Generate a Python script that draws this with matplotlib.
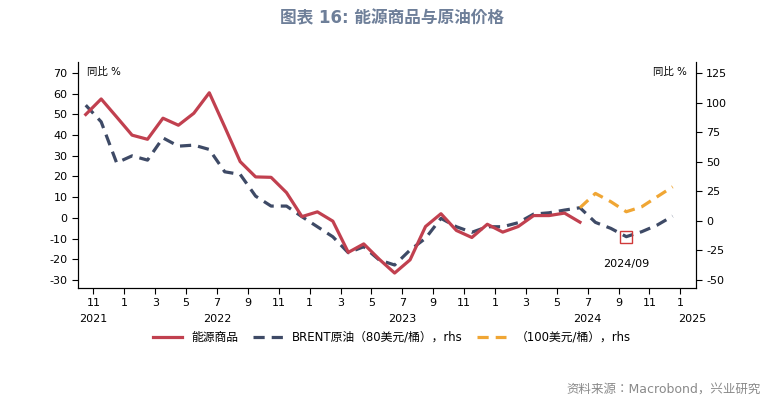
import matplotlib
matplotlib.use("Agg")
import matplotlib.pyplot as plt
from matplotlib import font_manager
import numpy as np

cjk = [f.name for f in font_manager.fontManager.ttflist if "CJK" in f.name]
plt.rcParams["font.family"] = ["DejaVu Sans"] + sorted(set(cjk))[:2] + ["Noto Sans CJK SC", "Noto Sans CJK JP"]
plt.rcParams["axes.unicode_minus"] = False

# --- Data (month index: Nov 2021 tick = 0, points sit half a month left of ticks) ---
energy = [50, 57.5, 48.8, 40, 38, 48.2, 44.8, 50.6, 60.5, 44, 27.2, 19.8, 19.6, 12.2,
          0.6, 2.9, -1.6, -16.7, -12.6, -20, -26.7, -20.3, -4.2, 2,
          -6.1, -9.5, -3.1, -6.9, -4.2, 1.1, 1.1, 2.3, -2.1]
brent80 = [98, 83.9, 49.2, 55.1, 51.5, 70.3, 63.3, 64.2, 60.5, 41.6, 39.4, 21, 12.6, 12.6,
           3.6, -4.9, -13.4, -26.9, -21.8, -33, -37.3, -24.6, -14.7, 2.2,
           -4.9, -9.6, -4.9, -4.9, -1.5, 5.8, 6.9, 9.2, 11.2,
           -1.2, -6.3, -13.3, -9.1, -3.5, 4.1]
brent100 = [11.2, 23.3, 16.3, 7.8, 12, 20.5, 28.9]  # from Jun 2024
month_ticks = ["11", "1", "3", "5", "7", "9", "11", "1", "3", "5", "7", "9", "11",
               "1", "3", "5", "7", "9", "11", "1"]
years = ["2021", "2022", "2023", "2024", "2025"]
year_pos = [0, 8, 20, 32, 38.8]

x_energy = np.arange(len(energy)) - 0.5
x_brent = np.arange(len(brent80)) - 0.5
x_100 = np.arange(len(brent100)) + 32 - 0.5

RED = "#c1404f"
NAVY = "#3e4a66"
ORANGE = "#f0a634"

fig = plt.figure(figsize=(7.84, 4.09), dpi=100)
ax = fig.add_axes([0.0995, 0.296, 0.788, 0.552])
ax2 = ax.twinx()

l1, = ax.plot(x_energy, energy, color=RED, lw=2.3, zorder=3)
l2, = ax2.plot(x_brent, brent80, color=NAVY, lw=2.3, ls=(0, (3.5, 2.2)))
l3, = ax2.plot(x_100, brent100, color=ORANGE, lw=2.3, ls=(0, (3.5, 2.2)))
ax.set_zorder(ax2.get_zorder() + 1)
ax.patch.set_visible(False)

# 2024/09 marker
ax2.plot(x_brent[35], brent80[35], marker="s", ms=8, mfc="none", mec="#d03a3a", mew=1)
ax2.annotate("2024/09", (x_brent[35], brent80[35]), xytext=(0, -20),
             textcoords="offset points", ha="center", va="center", fontsize=8)

ax.set_xlim(-1, 39)
ax.set_ylim(-33.9, 75.3)
ax2.set_ylim(-56.7, 134.4)
ax.set_yticks(np.arange(-30, 71, 10))
ax2.set_yticks(np.arange(-50, 126, 25))
ax.set_xticks(np.arange(0, 39, 2))
ax.set_xticklabels(month_ticks)
for a in (ax, ax2):
    a.tick_params(labelsize=8, direction="out", length=4, width=0.8)
    a.spines["top"].set_visible(False)
ax.tick_params(axis="x", pad=3)
for yr, p in zip(years, year_pos):
    ax.text(p, -0.115, yr, transform=ax.get_xaxis_transform(), ha="center",
            va="top", fontsize=8)

ax.text(0.015, 0.98, "同比 %", transform=ax.transAxes, fontsize=7.5, va="top")
ax2.text(0.985, 0.98, "同比 %", transform=ax2.transAxes, fontsize=7.5, va="top", ha="right")

fig.legend([l1, l2, l3], ["能源商品", "BRENT原油（80美元/桶），rhs", "（100美元/桶），rhs"],
           loc="center", bbox_to_anchor=(0.5, 0.175), ncol=3, frameon=False,
           fontsize=8.5, handlelength=2.5, columnspacing=1.2)

fig.text(0.5, 0.955, "图表 16: 能源商品与原油价格", ha="center", va="center",
         fontsize=12, fontweight="bold", color="#6e7f99")
fig.text(0.97, 0.045, "资料来源：Macrobond，兴业研究", ha="right", va="center",
         fontsize=9, color="#8a8a8a")

fig.savefig("out.png", dpi=100)
